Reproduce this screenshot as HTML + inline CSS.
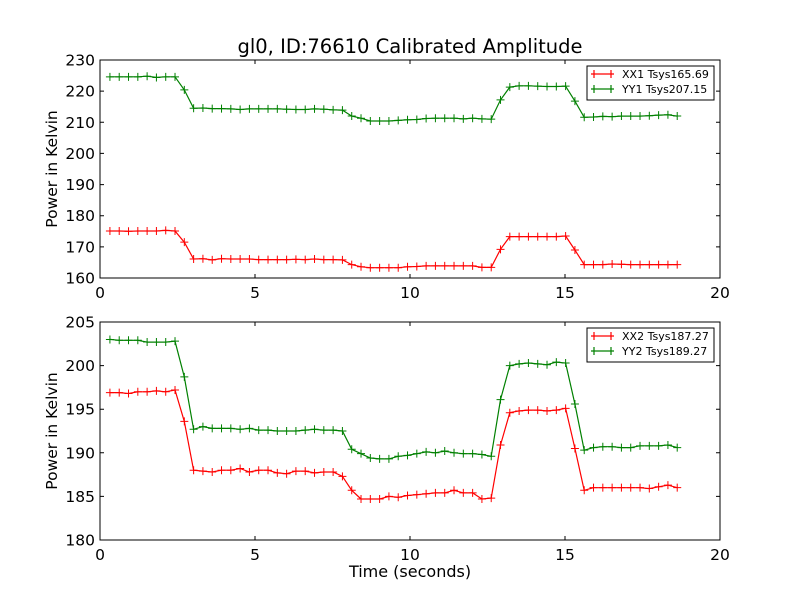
<!DOCTYPE html>
<html><head><meta charset="utf-8"><style>
body{margin:0;background:#fff;}
svg{font-family:"DejaVu Sans","Liberation Sans",sans-serif;}
</style></head><body>
<svg id="fig" width="800" height="600" viewBox="0 0 800 600">
<rect width="800" height="600" fill="#fff"/>
<text x="410" y="53" font-size="19.5" text-anchor="middle">gl0, ID:76610 Calibrated Amplitude</text>
<text x="410" y="577" font-size="16" text-anchor="middle">Time (seconds)</text>
</svg>
<script>
const times=[0.32,0.62,0.92,1.22,1.52,1.82,2.12,2.42,2.72,3.02,3.32,3.62,3.92,4.22,4.52,4.82,5.12,5.42,5.72,6.02,6.32,6.62,6.92,7.22,7.52,7.82,8.12,8.42,8.72,9.02,9.32,9.62,9.92,10.22,10.52,10.82,11.12,11.42,11.72,12.02,12.32,12.62,12.92,13.22,13.52,13.82,14.12,14.42,14.72,15.02,15.32,15.62,15.92,16.22,16.52,16.82,17.12,17.42,17.72,18.02,18.32,18.62];
const xx1=[175.1,175.1,175.0,175.1,175.1,175.1,175.3,175.1,171.5,166.1,166.2,165.8,166.2,166.1,166.1,166.1,165.9,165.9,165.9,165.9,166.0,165.9,166.1,165.9,165.9,165.8,164.3,163.6,163.3,163.3,163.3,163.3,163.6,163.7,163.9,163.9,163.9,163.9,163.9,163.9,163.4,163.4,169.2,173.3,173.3,173.3,173.3,173.3,173.3,173.5,169.0,164.3,164.3,164.3,164.5,164.4,164.3,164.3,164.3,164.3,164.3,164.3];
const yy1=[224.6,224.6,224.6,224.6,224.8,224.4,224.6,224.6,220.4,214.5,214.6,214.4,214.4,214.3,214.1,214.3,214.3,214.3,214.3,214.2,214.1,214.1,214.3,214.2,214.0,213.9,212.0,211.3,210.4,210.4,210.4,210.6,210.8,210.9,211.2,211.3,211.3,211.3,211.1,211.3,211.1,211.0,217.2,221.3,221.7,221.7,221.6,221.5,221.5,221.6,216.8,211.6,211.7,211.9,211.8,212.0,212.0,212.0,212.1,212.3,212.4,212.0];
const xx2=[196.9,196.9,196.8,197.0,197.0,197.1,197.0,197.2,193.6,188.0,187.9,187.8,188.0,188.0,188.2,187.8,188.0,188.0,187.7,187.6,187.9,187.9,187.7,187.8,187.8,187.3,185.7,184.7,184.7,184.7,185.0,184.9,185.1,185.2,185.3,185.4,185.4,185.7,185.4,185.4,184.7,184.8,190.9,194.6,194.8,194.9,194.9,194.8,194.9,195.1,190.5,185.7,186.0,186.0,186.0,186.0,186.0,186.0,185.9,186.1,186.3,186.0];
const yy2=[203.0,202.9,202.9,202.9,202.7,202.7,202.7,202.8,198.7,192.7,193.0,192.8,192.8,192.8,192.7,192.8,192.6,192.6,192.5,192.5,192.5,192.6,192.7,192.6,192.6,192.5,190.4,189.9,189.4,189.3,189.3,189.6,189.7,189.9,190.1,190.0,190.2,190.0,189.9,189.9,189.8,189.6,196.1,200.0,200.2,200.3,200.2,200.1,200.4,200.3,195.6,190.3,190.6,190.7,190.7,190.6,190.6,190.8,190.8,190.8,190.9,190.6];
const xTicks=[0,5,10,15,20];
const yTicks1=[160,170,180,190,200,210,220,230];
const yTicks2=[180,185,190,195,200,205];
const legend1=["XX1 Tsys165.69","YY1 Tsys207.15"];
const legend2=["XX2 Tsys187.27","YY2 Tsys189.27"];

const NS="http://www.w3.org/2000/svg";
const svg=document.getElementById('fig');
function mk(tag,attrs,parent){const e=document.createElementNS(NS,tag);for(const k in attrs)e.setAttribute(k,attrs[k]);(parent||svg).appendChild(e);return e;}

function panel(top,bottom,ymin,ymax,yTicks,series,labels,name){
  const L=100,R=720;
  const sx=v=>L+(v-0)/(20-0)*(R-L);
  const sy=v=>bottom-(v-ymin)/(ymax-ymin)*(bottom-top);
  const g=mk('g',{});
  
  
  const cols=['#ff0000','#008000'];
  series.forEach((s,si)=>{
    const sg=mk('g',{},g);
    
    
    const pts=s.map((v,i)=>sx(times[i]).toFixed(1)+','+sy(v).toFixed(1)).join(' ');
    const pl=mk('polyline',{points:pts,fill:'none',stroke:cols[si],'stroke-width':1.2},sg);
    
    
    s.forEach((v,i)=>{
      const x=sx(times[i]),y=sy(v);
      const m=mk('path',{d:`M${x-4},${y}H${x+4}M${x},${y-4}V${y+4}`,stroke:cols[si],'stroke-width':1},sg);
      
      
    });
  });
  const fr=mk('rect',{x:L,y:top,width:R-L,height:bottom-top,fill:'none',stroke:'#000','stroke-width':1},g);
  
  
  xTicks.forEach(t=>{
    const x=sx(t);
    mk('path',{d:`M${x},${bottom}v-4M${x},${top}v4`,stroke:'#000'},g);
    const tx=mk('text',{x:x,y:bottom+20,'font-size':15.5,'text-anchor':'middle'},g);
    tx.textContent=t;
    
    
  });
  yTicks.forEach(t=>{
    const y=sy(t);
    mk('path',{d:`M${L},${y}h4M${R},${y}h-4`,stroke:'#000'},g);
    const tx=mk('text',{x:L-5,y:y+5.5,'font-size':15.5,'text-anchor':'end'},g);
    tx.textContent=t;
    
    
  });
  const cy=(top+bottom)/2;
  const yl=mk('text',{x:57,y:cy,'font-size':15.5,'text-anchor':'middle',transform:`rotate(-90 57 ${cy})`},g);
  yl.textContent='Power in Kelvin';
  
  
  const lg=mk('g',{},g);
  
  
  mk('rect',{x:587,y:top+6,width:127,height:34,fill:'#fff',stroke:'#000','stroke-width':1},lg);
  labels.forEach((lab,i)=>{
    const y=top+14+i*15;
    const le=mk('g',{},lg);
    
    
    mk('path',{d:`M591,${y}H614M594,${y-4}v8M611,${y-4}v8`,stroke:cols[i],'stroke-width':1.2},le);
    const tx=mk('text',{x:622,y:y+4,'font-size':11},le);
    tx.textContent=lab;
  });
}
panel(60,278,160,230,yTicks1,[xx1,yy1],legend1,'top-panel');
panel(322,540,180,205,yTicks2,[xx2,yy2],legend2,'bottom-panel');
</script>
</body></html>
